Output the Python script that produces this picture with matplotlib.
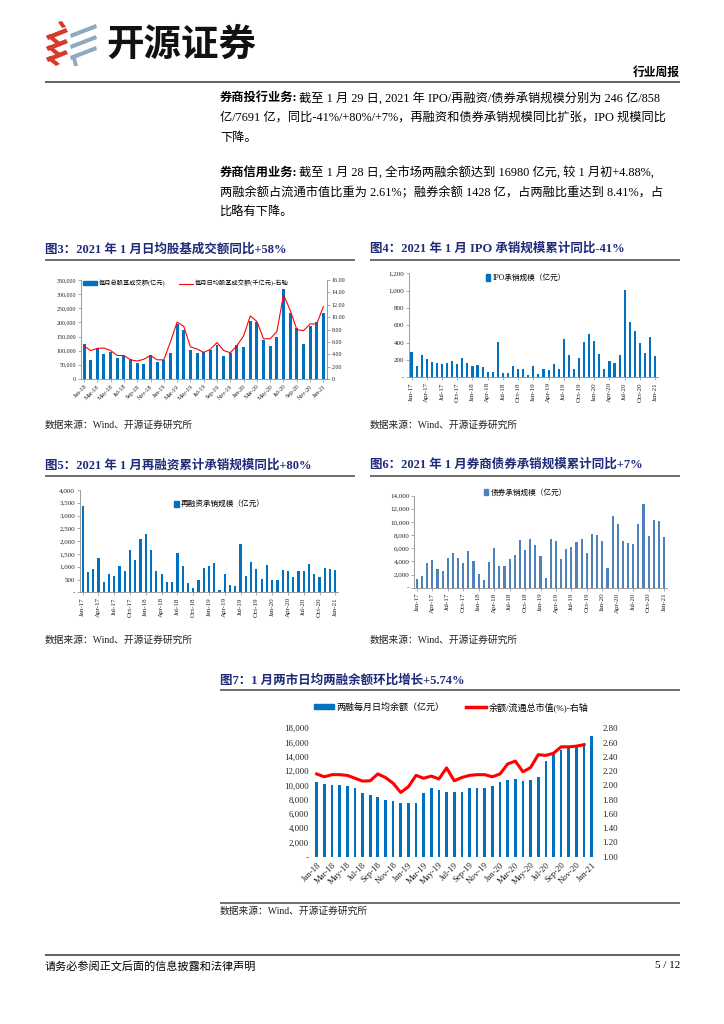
import matplotlib
matplotlib.use('Agg')
import matplotlib.pyplot as plt
from matplotlib.patches import Polygon, Patch
from matplotlib.lines import Line2D
from matplotlib.font_manager import FontProperties
import numpy as np

plt.rcParams['font.family'] = ['Liberation Serif', 'Noto Sans CJK SC', 'DejaVu Sans']
plt.rcParams['axes.unicode_minus'] = False

# ---------------- data ----------------
fig3_xlabels = ['Jan-18', 'Mar-18', 'May-18', 'Jul-18', 'Sep-18', 'Nov-18', 'Jan-19', 'Mar-19',
                'May-19', 'Jul-19', 'Sep-19', 'Nov-19', 'Jan-20', 'Mar-20', 'May-20', 'Jul-20',
                'Sep-20', 'Nov-20', 'Jan-21']
fig3_total = [122000, 67000, 108000, 88000, 97000, 75000, 81000, 71000, 55000, 54000, 84000,
              61000, 67000, 91000, 194000, 173000, 102000, 92000, 94000, 102000, 120000, 81000,
              91000, 120000, 114000, 206000, 203000, 138000, 117000, 150000, 318000, 234000,
              179000, 124000, 187000, 200000, 234000]
fig3_daily = [5.33, 4.6, 4.95, 5.0, 4.6, 3.8, 3.8, 3.1, 2.9, 3.2, 3.8, 3.1, 3.1, 6.0, 9.2, 8.5,
              5.2, 4.85, 4.3, 4.8, 5.9, 4.6, 4.25, 5.4, 6.95, 10.2, 9.3, 6.5, 6.5, 7.65, 13.6,
              11.15, 8.0, 7.8, 8.9, 8.9, 11.7]

q_xlabels = ['Jan-17', 'Apr-17', 'Jul-17', 'Oct-17', 'Jan-18', 'Apr-18', 'Jul-18', 'Oct-18',
             'Jan-19', 'Apr-19', 'Jul-19', 'Oct-19', 'Jan-20', 'Apr-20', 'Jul-20', 'Oct-20', 'Jan-21']
ipo_vals = [292, 135, 258, 212, 177, 165, 154, 165, 188, 154, 219, 169, 135, 142, 119, 62, 62,
            408, 54, 50, 127, 100, 100, 31, 127, 38, 92, 88, 154, 100, 446, 254, 100, 219, 408,
            504, 415, 269, 100, 188, 162, 262, 1004, 635, 531, 396, 281, 465, 246]
refin_vals = [3375, 795, 912, 1330, 404, 704, 638, 1016, 834, 1668, 1264, 2072, 2267, 1668, 821,
              704, 391, 391, 1524, 1042, 378, 182, 495, 938, 1029, 1147, 91, 704, 287, 248, 1876,
              638, 1186, 925, 521, 1068, 495, 482, 873, 821, 599, 821, 847, 1107, 704, 599, 951,
              925, 858]
bond_vals = [1268, 1725, 3704, 4211, 2892, 2486, 4465, 5226, 4566, 3704, 5530, 4059, 2029, 1116,
             3907, 6088, 3247, 3349, 4363, 4972, 7254, 5682, 7356, 6545, 4870, 1471, 7407, 7103,
             4363, 5885, 6190, 6900, 7356, 5327, 8118, 8016, 7103, 2993, 10857, 9640, 7103, 6800,
             6596, 9640, 12684, 7813, 10249, 10147, 7691]

fig7_xlabels = fig3_xlabels
margin_bal = [10500, 10130, 10040, 10040, 9950, 9620, 9000, 8680, 8400, 7900, 7770, 7560, 7470,
              7520, 8880, 9680, 9400, 9070, 9070, 9070, 9600, 9600, 9680, 9900, 10470, 10720,
              10900, 10640, 10720, 11220, 13460, 14400, 14960, 15240, 15430, 15960, 16877]
margin_ratio = [2.16, 2.12, 2.15, 2.15, 2.14, 2.10, 2.06, 2.065, 2.16, 2.11, 2.03, 1.90, 1.98,
                2.14, 2.10, 2.13, 2.09, 2.245, 2.065, 2.11, 2.14, 2.15, 2.15, 2.12, 2.16, 2.30,
                2.34, 2.19, 2.25, 2.43, 2.42, 2.45, 2.54, 2.54, 2.55, 2.57, np.nan]

# ---------------- layout helpers ----------------
W, H = 724, 1024
fig = plt.figure(figsize=(W / 100, H / 100), dpi=100)
bg = fig.add_axes([0, 0, 1, 1])
bg.set_xlim(0, W)
bg.set_ylim(H, 0)
bg.axis('off')

BLUE = '#0070C0'
NAVY = '#1F2A7A'
GREY = '#8C8C8C'


def ax_px(x0, y0, x1, y1):
    return fig.add_axes([x0 / W, 1 - y1 / H, (x1 - x0) / W, (y1 - y0) / H])


def style(ax, size, spines=('left', 'bottom')):
    for s in ['top', 'right', 'left', 'bottom']:
        ax.spines[s].set_visible(s in spines)
        ax.spines[s].set_color(GREY)
        ax.spines[s].set_linewidth(0.6)
    ax.tick_params(length=2, width=0.5, color=GREY, pad=1.5, labelsize=size, labelcolor='#222222')
    ax.patch.set_alpha(0)


def thous(v, zero='-'):
    return zero if v == 0 else '{:,}'.format(int(v))


def hline(x0, x1, y, lw=1.2, c='#555555'):
    bg.plot([x0, x1], [y, y], color=c, lw=lw, solid_capstyle='butt')


# ---------------- header ----------------
red = '#D9392B'
gb = '#8FA9BF'
for dy in [0, 11, 22]:
    bg.add_patch(Polygon([(46, 36 + dy), (66, 28 + dy), (68, 32 + dy), (48, 40 + dy)], closed=True,
                         color=red, lw=0))
    bg.add_patch(Polygon([(46, 36 + dy), (50, 34 + dy), (60, 42 + dy), (56, 44 + dy)], closed=True,
                         color=red, lw=0))
bg.add_patch(Polygon([(58, 22), (62, 21), (66, 27), (62, 28)], closed=True, color=red, lw=0))
for dy in [0, 11, 22]:
    bg.add_patch(Polygon([(70, 34 + dy), (96, 24 + dy), (97, 28 + dy), (71, 38 + dy)], closed=True,
                         color=gb, lw=0))
bg.add_patch(Polygon([(72, 58), (76, 58), (78, 66), (74, 66)], closed=True, color=gb, lw=0))
bg.text(106, 44, '开源证券', fontsize=27, fontweight='bold', family='Noto Sans CJK SC',
        va='center', ha='left', color='#111111')
bg.text(680, 73, '行业周报', fontsize=8.5, fontweight='bold', va='center', ha='right')
hline(45, 680, 82, lw=1.3)

# ---------------- paragraphs ----------------
fig.canvas.draw()
renderer = fig.canvas.get_renderer()
PFS = 8.8


def para(y, bold, rest):
    t = bg.text(220, y, bold, fontsize=PFS, fontweight='bold', va='center', ha='left')
    bb = t.get_window_extent(renderer=renderer)
    bg.text(bb.x1 + 1, y, rest, fontsize=PFS, va='center', ha='left')


para(98, '券商投行业务:', '截至 1 月 29 日, 2021 年 IPO/再融资/债券承销规模分别为 246 亿/858')
bg.text(220, 118, '亿/7691 亿，同比-41%/+80%/+7%，再融资和债券承销规模同比扩张，IPO 规模同比',
        fontsize=PFS, va='center')
bg.text(220, 138, '下降。', fontsize=PFS, va='center')
para(173, '券商信用业务:', '截至 1 月 28 日, 全市场两融余额达到 16980 亿元, 较 1 月初+4.88%,')
bg.text(220, 193, '两融余额占流通市值比重为 2.61%；融券余额 1428 亿，占两融比重达到 8.41%，占',
        fontsize=PFS, va='center')
bg.text(220, 212, '比略有下降。', fontsize=PFS, va='center')

# ---------------- titles, lines, sources ----------------
titles = [(45, 249, '图3：2021 年 1 月日均股基成交额同比+58%'),
          (370, 249, '图4：2021 年 1 月 IPO 承销规模累计同比-41%'),
          (45, 465, '图5：2021 年 1 月再融资累计承销规模同比+80%'),
          (370, 465, '图6：2021 年 1 月券商债券承销规模累计同比+7%'),
          (220, 680, '图7：1 月两市日均两融余额环比增长+5.74%')]
for x, y, s in titles:
    bg.text(x, y, s, fontsize=9, fontweight='bold', color=NAVY, va='center', ha='left')
hline(45, 355, 260)
hline(370, 680, 260)
hline(45, 355, 476)
hline(370, 680, 476)
hline(220, 680, 690)
hline(220, 680, 903)
src = '数据来源：Wind、开源证券研究所'
for x, y in [(45, 425), (370, 425), (45, 640), (370, 640), (220, 911)]:
    bg.text(x, y, src, fontsize=7, va='center', ha='left', color='#222222')

hline(45, 680, 955, lw=1.3)
bg.text(45, 966, '请务必参阅正文后面的信息披露和法律声明', fontsize=8, va='center', ha='left')
bg.text(680, 966, '5 / 12', fontsize=8, va='center', ha='right')

# ---------------- figure 3 ----------------
ax3 = ax_px(80.7, 280, 326.7, 379)
x37 = np.arange(len(fig3_total))
ax3.bar(x37, fig3_total, width=0.45, color=BLUE, zorder=2)
ax3.set_xlim(-0.5, len(fig3_total) - 0.5)
ax3.set_ylim(0, 350000)
yt = np.arange(0, 350001, 50000)
ax3.set_yticks(yt)
ax3.set_yticklabels([thous(v, '0') for v in yt])
ax3.set_xticks(np.arange(0, len(fig3_total), 2))
ax3.set_xticklabels(fig3_xlabels, rotation=45, ha='right', rotation_mode='anchor')
style(ax3, 4.3, spines=('left', 'bottom'))
ax3r = ax3.twinx()
ax3r.plot(x37, fig3_daily, color='#FF0000', lw=0.8, zorder=3)
ax3r.set_ylim(0, 16)
yr = np.arange(0, 17, 2)
ax3r.set_yticks(yr)
ax3r.set_yticklabels(['0' if v == 0 else '%.2f' % v for v in yr])
style(ax3r, 4.3, spines=('right',))
fp3 = FontProperties(family=['Liberation Serif', 'Noto Sans CJK SC'], size=4.5)
ax3r.legend([Patch(color=BLUE), Line2D([], [], color='#FF0000', lw=0.8)],
            ['每月总股基成交额(亿元)', '每月日均股基成交额(千亿元)-右轴'],
            loc='center left', bbox_to_anchor=(0.0, 0.965), ncol=2, frameon=False, prop=fp3,
            handlelength=2.2, handleheight=0.6, columnspacing=2.2, handletextpad=0.3,
            borderaxespad=0)

# ---------------- figures 4-6 ----------------
def quarter_bars(rect, vals, ymax, step, color, legend_label, leg_xy, size=5.0):
    ax = ax_px(*rect)
    xs = np.arange(len(vals))
    ax.bar(xs, vals, width=0.42, color=color, zorder=2)
    ax.set_xlim(-0.5, len(vals) - 0.5)
    ax.set_ylim(0, ymax)
    ticks = np.arange(0, ymax + 1, step)
    ax.set_yticks(ticks)
    ax.set_yticklabels([thous(v) for v in ticks])
    ax.set_xticks(np.arange(0, len(vals), 3))
    ax.set_xticklabels(q_xlabels, rotation=90, ha='center', va='top')
    style(ax, size)
    fp = FontProperties(family=['Liberation Serif', 'Noto Sans CJK SC'], size=5.5)
    ax.legend([Patch(color=color)], [legend_label], loc='center', bbox_to_anchor=leg_xy,
              frameon=False, prop=fp, handlelength=0.6, handleheight=0.9, handletextpad=0.3,
              borderaxespad=0)
    return ax


quarter_bars((409, 273.3, 657.7, 377.3), ipo_vals, 1200, 200, BLUE, 'IPO承销规模（亿元）',
             (0.47, 0.955))
quarter_bars((80, 490, 338, 592.3), refin_vals, 4000, 500, BLUE, '再融资承销规模（亿元）',
             (0.54, 0.86))
quarter_bars((414.3, 495.7, 666.7, 587.7), bond_vals, 14000, 2000, '#4F81BD', '债券承销规模（亿元）',
             (0.44, 1.03))

# ---------------- figure 7 ----------------
ax7 = ax_px(312.9, 728.3, 595.5, 856.7)
x7 = np.arange(len(margin_bal))
ax7.bar(x7, margin_bal, width=0.35, color=BLUE, zorder=2)
ax7.set_xlim(-0.5, len(margin_bal) - 0.5)
ax7.set_ylim(0, 18000)
t7 = np.arange(0, 18001, 2000)
ax7.set_yticks(t7)
ax7.set_yticklabels([thous(v) for v in t7])
ax7.set_xticks(np.arange(0, len(margin_bal), 2))
ax7.set_xticklabels(fig7_xlabels, rotation=45, ha='right', rotation_mode='anchor')
style(ax7, 6.3, spines=())
ax7.tick_params(length=0, pad=3)
ax7r = ax7.twinx()
ax7r.plot(x7, margin_ratio, color='#FF0000', lw=2.2, zorder=3)
ax7r.set_ylim(1.0, 2.8)
tr = np.arange(1.0, 2.81, 0.2)
ax7r.set_yticks(tr)
ax7r.set_yticklabels(['%.2f' % v for v in tr])
style(ax7r, 6.3, spines=())
ax7r.tick_params(length=0, pad=5)
fp7 = FontProperties(family=['Liberation Serif', 'Noto Sans CJK SC'], size=6.5)
ax7r.legend([Patch(color=BLUE), Line2D([], [], color='#FF0000', lw=2.5)],
            ['两融每月日均余额（亿元）', '余额/流通总市值(%)-右轴'],
            loc='center left', bbox_to_anchor=(-0.01, 1.165), ncol=2, frameon=False, prop=fp7,
            handlelength=2.2, handleheight=0.5, columnspacing=2.4, handletextpad=0.3,
            borderaxespad=0)

fig.savefig('out.png', dpi=100)
